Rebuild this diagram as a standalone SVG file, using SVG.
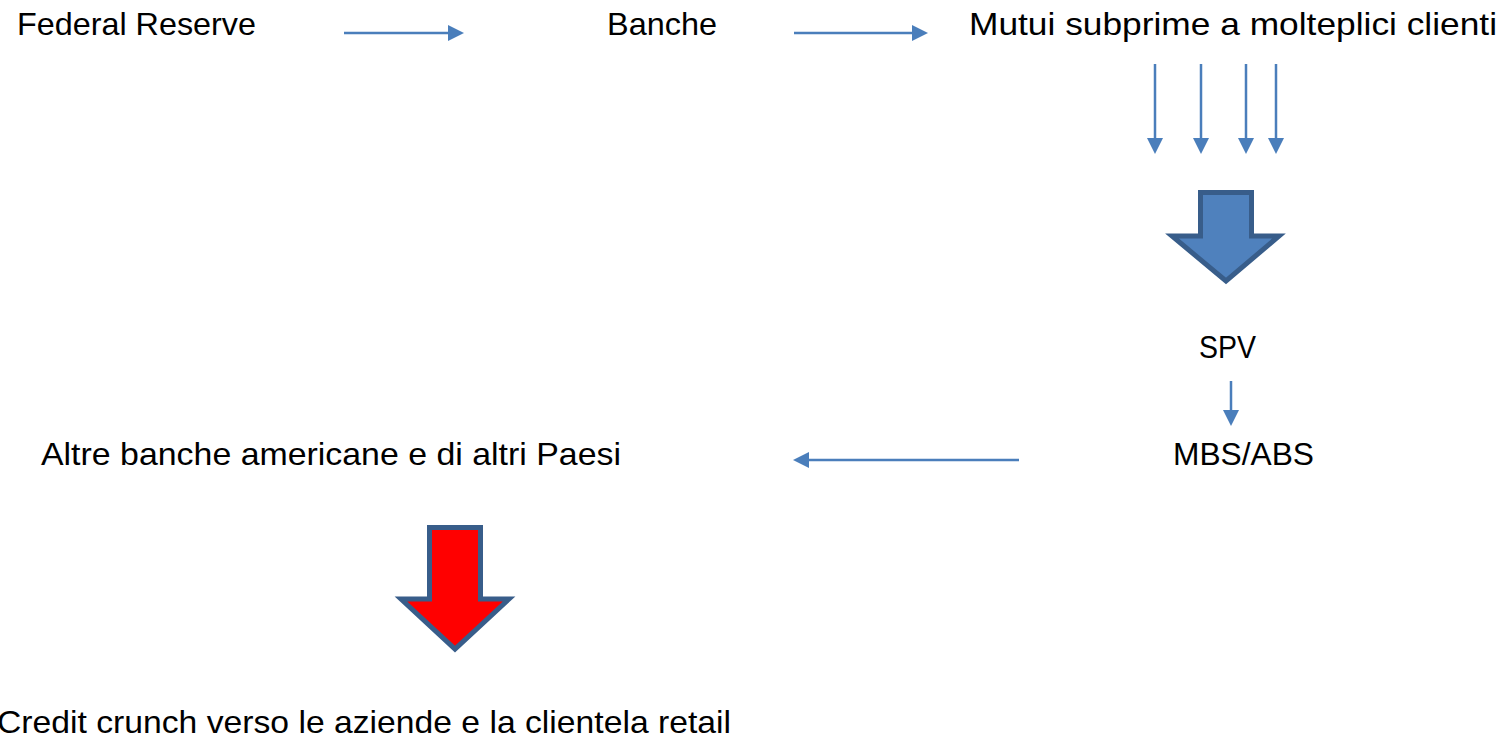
<svg xmlns="http://www.w3.org/2000/svg" width="1506" height="739" viewBox="0 0 1506 739">
<style>
.t{font-family:"Liberation Sans",Arial,sans-serif;font-size:32px;fill:#000}
.c{stroke:#4A7EBB;stroke-width:2.5;fill:none}
.bb{fill:#4F81BD;stroke:#385D8A;stroke-width:5;stroke-linejoin:miter}
.br{fill:#FF0000;stroke:#385D8A;stroke-width:5;stroke-linejoin:miter}
</style>
<defs>
<marker id="ah" markerUnits="userSpaceOnUse" markerWidth="16" markerHeight="16" refX="8" refY="8" orient="auto">
<path d="M0,0 L16,8 L0,16 z" fill="#4A7EBB"/>
</marker>
</defs>
<rect width="1506" height="739" fill="#fff"/>
<g id="n-fed"><text class="t" x="17" y="35" textLength="239" lengthAdjust="spacingAndGlyphs">Federal Reserve</text></g>
<g id="n-banche"><text class="t" x="607" y="35" textLength="110" lengthAdjust="spacingAndGlyphs">Banche</text></g>
<g id="n-mutui"><text class="t" x="969" y="35" textLength="528" lengthAdjust="spacingAndGlyphs">Mutui subprime a molteplici clienti</text></g>
<g id="n-spv"><text class="t" x="1199" y="358" textLength="57" lengthAdjust="spacingAndGlyphs">SPV</text></g>
<g id="n-mbs"><text class="t" x="1173" y="465" textLength="141" lengthAdjust="spacingAndGlyphs">MBS/ABS</text></g>
<g id="n-altre"><text class="t" x="41" y="465" textLength="580" lengthAdjust="spacingAndGlyphs">Altre banche americane e di altri Paesi</text></g>
<g id="n-credit"><text class="t" x="-3" y="733" textLength="734" lengthAdjust="spacingAndGlyphs">Credit crunch verso le aziende e la clientela retail</text></g>
<g id="n-blockblue"><path class="bb" d="M1200.5,192.5 L1251.5,192.5 L1251.5,236 L1279,236 L1226,281 L1172,236 L1200.5,236 Z"/></g>
<g id="n-blockred"><path class="br" d="M429.5,527.5 L480.5,527.5 L480.5,599 L509,599 L455,649 L401,599 L429.5,599 Z"/></g>
<g id="connectors">
<line class="c" x1="344" y1="33" x2="456" y2="33" marker-end="url(#ah)"/>
<line class="c" x1="794" y1="33" x2="920" y2="33" marker-end="url(#ah)"/>
<line class="c" x1="1155" y1="64" x2="1155" y2="146" marker-end="url(#ah)"/>
<line class="c" x1="1201" y1="64" x2="1201" y2="146" marker-end="url(#ah)"/>
<line class="c" x1="1246" y1="64" x2="1246" y2="146" marker-end="url(#ah)"/>
<line class="c" x1="1276" y1="64" x2="1276" y2="146" marker-end="url(#ah)"/>
<line class="c" x1="1231" y1="381" x2="1231" y2="418" marker-end="url(#ah)"/>
<line class="c" x1="1019" y1="460" x2="801" y2="460" marker-end="url(#ah)"/>
</g>
</svg>
